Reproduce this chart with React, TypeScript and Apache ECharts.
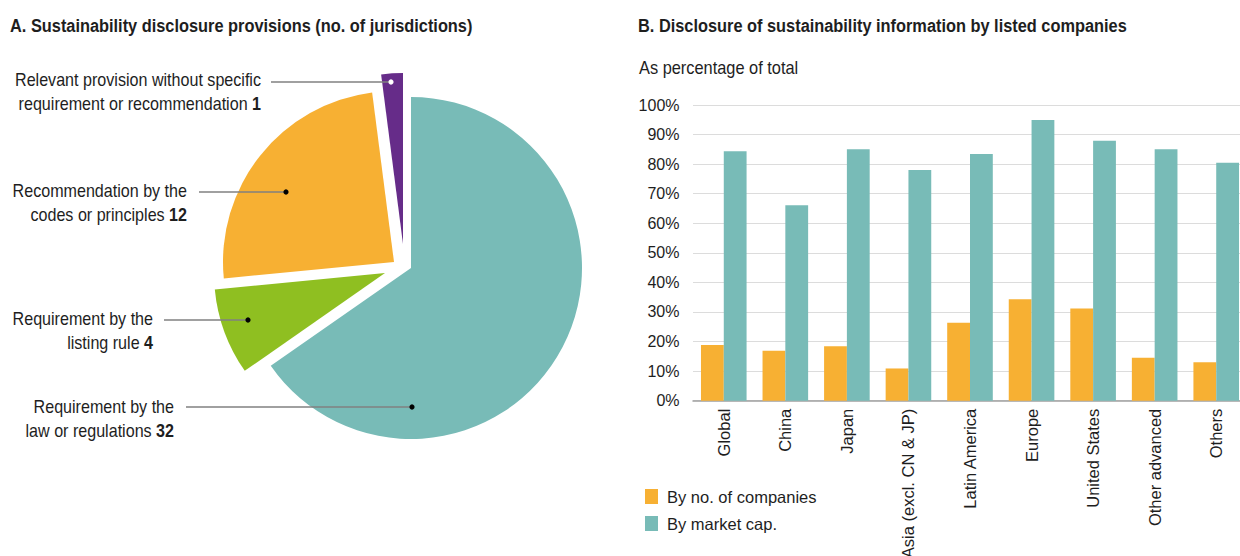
import React, { useEffect, useRef } from "react";
import * as echarts from "echarts";

// ---------- Data ----------
const regions = [
  "Global",
  "China",
  "Japan",
  "Asia (excl. CN & JP)",
  "Latin America",
  "Europe",
  "United States",
  "Other advanced",
  "Others",
];
const byNoOfCompanies = [18.8, 16.9, 18.4, 10.9, 26.4, 34.3, 31.2, 14.5, 13.0];
const byMarketCap = [84.4, 66.1, 85.0, 78.0, 83.4, 94.9, 87.9, 85.0, 80.5];
const yTicks = [0, 10, 20, 30, 40, 50, 60, 70, 80, 90, 100];

const provisionLine1 = [
  "Requirement by the",
  "Requirement by the",
  "Recommendation by the",
  "Relevant provision without specific",
];
const provisionLine2 = [
  "law or regulations",
  "listing rule",
  "codes or principles",
  "requirement or recommendation",
];
const provisionCounts = [32, 4, 12, 1];

// ---------- Styles ----------
const FONT = "'Liberation Sans', Arial, Helvetica, sans-serif";
const TEXT = "#1e1e1e";
const TEAL = "#78bbb7";
const ORANGE = "#f7b033";
const GREEN = "#8fbf21";
const PURPLE = "#662c89";
const sliceColors = [TEAL, GREEN, ORANGE, PURPLE];
const PIE_CX = 411;
const PIE_CY = 268;
const PIE_R = 171;
const sliceOffsets = [
  [0, 0],
  [-26, 5],
  [-17, -6],
  [-8, -24],
];
const CONDENSE = 0.91;
// label layout: [textRightX, textMidY, lineStartX, dotX, dotY, dotColor]
const labelLayout: [number, number, number, number, number, string][] = [
  [174, 419, 186, 412, 407, "#000"],
  [153, 331, 164, 248, 320, "#000"],
  [187, 203, 199, 286, 192, "#000"],
  [261, 92, 271, 391, 82, "#fff"],
];

export default function App() {
  const ref = useRef<HTMLDivElement>(null);

  useEffect(() => {
    if (!ref.current) return;
    const chart = echarts.init(ref.current, undefined, { renderer: "svg" });

    const pieSeries = provisionCounts.map((_, si) => ({
      type: "pie",
      silent: true,
      radius: PIE_R,
      center: [PIE_CX + sliceOffsets[si][0], PIE_CY + sliceOffsets[si][1]],
      startAngle: 90,
      clockwise: true,
      label: { show: false },
      labelLine: { show: false },
      emphasis: { disabled: true },
      z: 2,
      data: provisionCounts.map((v, i) => ({
        name: provisionLine1[i] + " " + provisionLine2[i],
        value: v,
        itemStyle: {
          color: i === si ? sliceColors[i] : "rgba(0,0,0,0)",
          borderWidth: 0,
        },
      })),
    }));

    const labelGraphics: any[] = [];
    provisionCounts.forEach((v, i) => {
      const [tx, ty, lx, dx, dy, dc] = labelLayout[i];
      labelGraphics.push({
        type: "text",
        silent: true,
        x: tx,
        y: ty,
        scaleX: CONDENSE,
        style: {
          text: provisionLine1[i] + "\n" + provisionLine2[i] + " {b|" + v + "}",
          x: 0,
          y: 0,
          align: "right",
          verticalAlign: "middle",
          fontFamily: FONT,
          fontSize: 17.7,
          lineHeight: 24,
          fill: TEXT,
          rich: {
            b: {
              fontFamily: FONT,
              fontSize: 17.7,
              fontWeight: "bold",
              lineHeight: 24,
              fill: TEXT,
            },
          },
        },
        z: 10,
      });
      labelGraphics.push({
        type: "line",
        silent: true,
        shape: { x1: lx, y1: dy, x2: dx, y2: dy },
        style: { stroke: "#808080", lineWidth: 1.3 },
        z: 10,
      });
      labelGraphics.push({
        type: "circle",
        silent: true,
        shape: { cx: dx, cy: dy, r: 2.6 },
        style: { fill: dc },
        z: 11,
      });
    });

    const titleText = (text: string, x: number, y: number, size: number, bold: boolean, sx: number) => ({
      type: "text",
      silent: true,
      x,
      y,
      scaleX: sx,
      style: {
        text,
        x: 0,
        y: 0,
        verticalAlign: "middle",
        fontFamily: FONT,
        fontSize: size,
        fontWeight: bold ? "bold" : "normal",
        fill: TEXT,
      },
    });

    chart.setOption({
      animation: false,
      backgroundColor: "#ffffff",
      textStyle: { fontFamily: FONT },
      graphic: [
        titleText("A. Sustainability disclosure provisions (no. of jurisdictions)", 10, 26, 18.6, true, 0.88),
        titleText("B. Disclosure of sustainability information by listed companies", 638, 26, 18.6, true, 0.88),
        titleText("As percentage of total", 639, 68, 18, false, CONDENSE),
        ...labelGraphics,
      ],
      legend: {
        data: ["By no. of companies", "By market cap."],
        orient: "vertical",
        left: 645,
        top: 488,
        padding: 0,
        itemWidth: 13,
        itemHeight: 15,
        itemGap: 10,
        icon: "rect",
        selectedMode: false,
        textStyle: {
          fontFamily: FONT,
          fontSize: 16.5,
          color: TEXT,
          padding: [0, 0, 0, 4],
        },
      },
      grid: {
        left: 693,
        right: -7,
        top: 105,
        bottom: 155.3,
        containLabel: false,
        outerBoundsMode: "none",
      },
      xAxis: {
        type: "category",
        data: regions,
        axisLine: { show: true, lineStyle: { color: "#a0a0a0", width: 1.5 } },
        axisTick: { show: false },
        axisLabel: {
          rotate: 90,
          margin: 8,
          interval: 0,
          fontFamily: FONT,
          fontSize: 16.5,
          color: TEXT,
        },
      },
      yAxis: {
        type: "value",
        min: yTicks[0],
        max: yTicks[yTicks.length - 1],
        interval: yTicks[1] - yTicks[0],
        axisLine: { show: false },
        axisTick: { show: false },
        splitLine: { lineStyle: { color: "#dcdcdc", width: 1 } },
        axisLabel: {
          formatter: "{value}%",
          margin: 13.5,
          fontFamily: FONT,
          fontSize: 16,
          color: TEXT,
        },
      },
      series: [
        {
          name: "By no. of companies",
          type: "bar",
          data: byNoOfCompanies,
          barWidth: 22.8,
          barGap: "0%",
          itemStyle: { color: ORANGE },
          silent: true,
        },
        {
          name: "By market cap.",
          type: "bar",
          data: byMarketCap,
          barWidth: 22.8,
          barGap: "0%",
          itemStyle: { color: TEAL },
          silent: true,
        },
        ...pieSeries,
      ],
    });

    return () => chart.dispose();
  }, []);

  return (
    <div
      ref={ref}
      style={{ position: "fixed", left: 0, top: 0, width: 1240, height: 556 }}
    />
  );
}
